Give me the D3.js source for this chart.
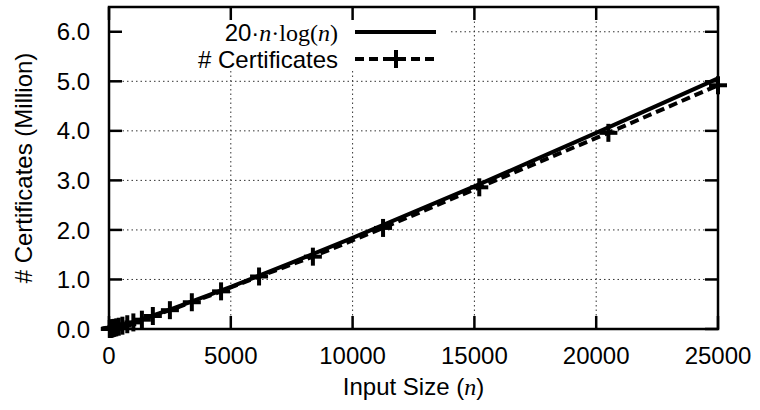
<!DOCTYPE html>
<html>
<head>
<meta charset="utf-8">
<script src="https://cdn.jsdelivr.net/npm/d3@7"></script>
<style>
  body { margin: 0; background: #fff; }
  svg { display: block; font-family: "Liberation Sans", Arial, sans-serif; }
  .grid line { stroke: #333; stroke-width: 1; stroke-dasharray: 1.5,3; }
  .tick-label { font-size: 24px; fill: #000; }
</style>
</head>
<body>
<div id="chart"></div>
<script>
// x ticks and y ticks
var xTicks = [0, 5000, 10000, 15000, 20000, 25000];
var yTicks = [0, 1, 2, 3, 4, 5, 6];

// 20*n*log(n) curve, values (millions)
var curveN = [1, 1000, 2500, 5000, 7500, 10000, 12500, 15000, 17500, 20000, 22500, 25000];
var curveVal = [0, 0.138, 0.391, 0.852, 1.34, 1.84, 2.36, 2.88, 3.42, 3.96, 4.51, 5.06];

// # Certificates measured (millions)
var certN = [32, 50, 64, 90, 120, 160, 220, 300, 400, 550, 750, 1000, 1350, 1800, 2500, 3400, 4600, 6160, 8370, 11250, 15200, 20500, 25000];
var certVal = [0.002, 0.004, 0.005, 0.008, 0.011, 0.016, 0.023, 0.033, 0.046, 0.067, 0.096, 0.133, 0.188, 0.262, 0.38, 0.54, 0.76, 1.06, 1.46, 2.04, 2.86, 3.96, 4.92];

var svg = d3.select("#chart").append("svg")
    .attr("width", 760)
    .attr("height", 410);

// plot box edges
var pL = 109, pR = 718, pT = 7, pB = 329;

var x = d3.scaleLinear().domain([0, 25000]).range([pL, pR]);
var y = d3.scaleLinear().domain([0, 6.5]).range([pB, pT]);

// grid
var grid = svg.append("g").attr("class", "grid");
grid.selectAll(".gx").data(xTicks.slice(1, -1)).enter().append("line")
    .attr("x1", function(d) { return x(d); }).attr("x2", function(d) { return x(d); })
    .attr("y1", pB).attr("y2", pT);
grid.selectAll(".gy").data(yTicks.slice(1)).enter().append("line")
    .attr("x1", pL).attr("x2", pR)
    .attr("y1", function(d) { return y(d); }).attr("y2", function(d) { return y(d); });

// legend background hides the grid behind the key
svg.append("rect")
    .attr("x", 118).attr("y", 12)
    .attr("width", 331).attr("height", 58)
    .attr("fill", "#fff");

// ticks, mirrored on all four sides, pointing inward
var tl = 13;
var ticks = svg.append("g").attr("stroke", "#000").attr("stroke-width", 2.5);
xTicks.forEach(function(d) {
  ticks.append("line").attr("x1", x(d)).attr("x2", x(d)).attr("y1", pB).attr("y2", pB - tl);
  ticks.append("line").attr("x1", x(d)).attr("x2", x(d)).attr("y1", pT).attr("y2", pT + tl);
});
yTicks.forEach(function(d) {
  ticks.append("line").attr("x1", pL).attr("x2", pL + tl).attr("y1", y(d)).attr("y2", y(d));
  ticks.append("line").attr("x1", pR).attr("x2", pR - tl).attr("y1", y(d)).attr("y2", y(d));
});

// frame
svg.append("rect")
    .attr("x", pL).attr("y", pT)
    .attr("width", pR - pL).attr("height", pB - pT)
    .attr("fill", "none").attr("stroke", "#000").attr("stroke-width", 2.5);

// tick labels
svg.selectAll(".xl").data(xTicks).enter().append("text")
    .attr("class", "tick-label")
    .attr("x", function(d) { return x(d); })
    .attr("y", 364)
    .attr("text-anchor", "middle")
    .text(function(d) { return d; });
svg.selectAll(".yl").data(yTicks).enter().append("text")
    .attr("class", "tick-label")
    .attr("x", 90)
    .attr("y", function(d) { return y(d); })
    .attr("dy", "0.36em")
    .attr("text-anchor", "end")
    .text(function(d) { return d3.format(".1f")(d); });

// axis titles
var xt = svg.append("text")
    .attr("x", (pL + pR) / 2).attr("y", 395)
    .attr("text-anchor", "middle")
    .style("font-size", "24px");
xt.append("tspan").text("Input Size (");
xt.append("tspan").style("font-family", "Liberation Serif, serif").style("font-style", "italic").text("n");
xt.append("tspan").text(")");

svg.append("text")
    .attr("transform", "translate(32," + ((pT + pB) / 2) + ") rotate(-90)")
    .attr("text-anchor", "middle")
    .style("font-size", "24px")
    .text("# Certificates (Million)");

// lines
var curveData = curveN.map(function(n, i) { return [n, curveVal[i]]; });
var certData = certN.map(function(n, i) { return [n, certVal[i]]; });
var line = d3.line()
    .x(function(d) { return x(d[0]); })
    .y(function(d) { return y(d[1]); });

svg.append("path")
    .datum(certData)
    .attr("d", line)
    .attr("fill", "none").attr("stroke", "#000").attr("stroke-width", 4)
    .attr("stroke-dasharray", "9,5");

svg.append("path")
    .datum(curveData)
    .attr("d", line)
    .attr("fill", "none").attr("stroke", "#000").attr("stroke-width", 4);

// plus markers
var pm = 9;
var marks = svg.append("g").attr("stroke", "#000").attr("stroke-width", 4);
certData.forEach(function(d) {
  var px = x(d[0]), py = y(d[1]);
  marks.append("line").attr("x1", px - pm).attr("x2", px + pm).attr("y1", py).attr("y2", py);
  marks.append("line").attr("x1", px).attr("x2", px).attr("y1", py - pm).attr("y2", py + pm);
});

// legend
var lg = svg.append("g");
var t1 = lg.append("text")
    .attr("x", 338).attr("y", 32).attr("dy", "0.36em")
    .attr("text-anchor", "end")
    .style("font-size", "24px");
t1.append("tspan").text("20·");
t1.append("tspan").style("font-family", "Liberation Serif, serif").style("font-style", "italic").text("n");
t1.append("tspan").style("font-family", "Liberation Serif, serif").text("·log(");
t1.append("tspan").style("font-family", "Liberation Serif, serif").style("font-style", "italic").text("n");
t1.append("tspan").style("font-family", "Liberation Serif, serif").text(")");
lg.append("line").attr("x1", 355).attr("x2", 436).attr("y1", 32).attr("y2", 32)
    .attr("stroke", "#000").attr("stroke-width", 4);

lg.append("text")
    .attr("x", 338).attr("y", 59).attr("dy", "0.36em")
    .attr("text-anchor", "end")
    .style("font-size", "24px")
    .text("# Certificates");
lg.append("line").attr("x1", 355).attr("x2", 436).attr("y1", 59).attr("y2", 59)
    .attr("stroke", "#000").attr("stroke-width", 4).attr("stroke-dasharray", "9,5");
lg.append("line").attr("x1", 396 - pm).attr("x2", 396 + pm).attr("y1", 59).attr("y2", 59)
    .attr("stroke", "#000").attr("stroke-width", 4);
lg.append("line").attr("x1", 396).attr("x2", 396).attr("y1", 59 - pm).attr("y2", 59 + pm)
    .attr("stroke", "#000").attr("stroke-width", 4);
</script>
</body>
</html>
